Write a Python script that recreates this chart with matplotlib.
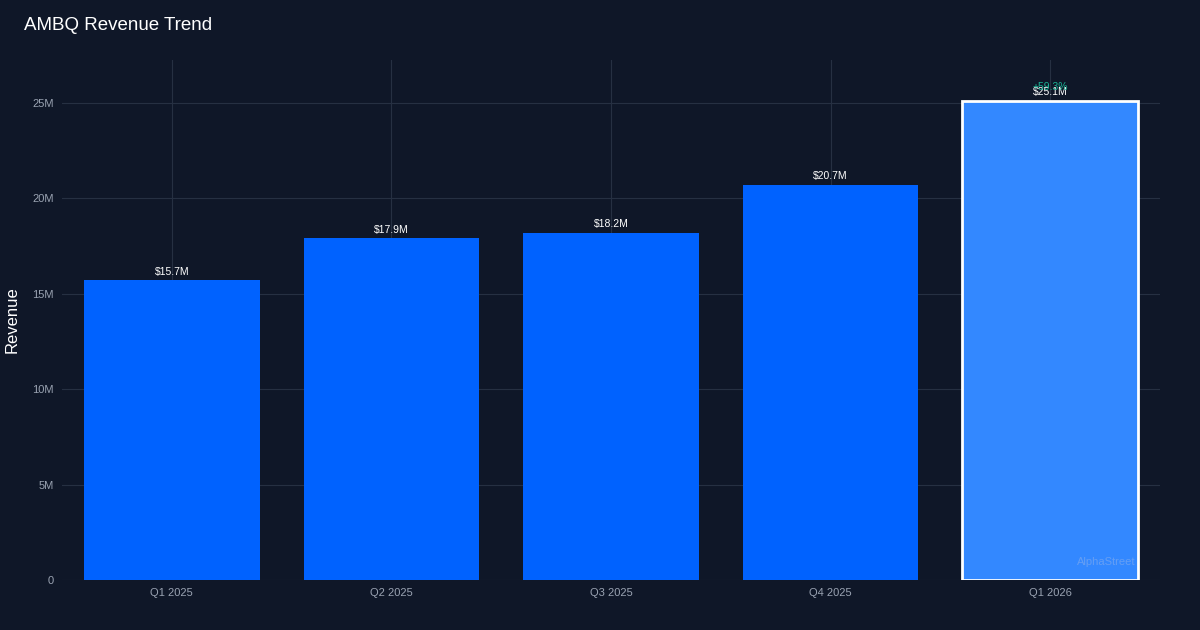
import matplotlib
matplotlib.use('Agg')
import matplotlib.pyplot as plt
from matplotlib.ticker import FuncFormatter

plt.rcParams['font.family'] = ['Liberation Sans', 'DejaVu Sans']

quarters = ["Q1 2025", "Q2 2025", "Q3 2025", "Q4 2025", "Q1 2026"]
revenue = [15.7, 17.9, 18.2, 20.7, 25.1]  # $M
labels = ["$15.7M", "$17.9M", "$18.2M", "$20.7M", "$25.1M"]
growth_label = "+59.3%"

bg = "#0f1728"
grid = "#263042"
tick_col = "#9aa3b2"

fig = plt.figure(figsize=(12, 6.3), dpi=100, facecolor=bg)
ax = fig.add_axes([62/1200, 50/630, 1098/1200, 520/630], facecolor=bg)

x = list(range(len(quarters)))
colors = ["#0062ff"] * 4 + ["#3388ff"]
bars = ax.bar(x, revenue, width=0.8, color=colors, zorder=2)
bars[-1].set_edgecolor("white")
bars[-1].set_linewidth(2)

for xi, v, lab in zip(x, revenue, labels):
    ax.text(xi, v + 0.2, lab, ha="center", va="bottom", color="white", fontsize=7.5, zorder=3)
ax.text(x[-1], revenue[-1] + 0.45, growth_label, ha="center", va="bottom", color="#19b394", fontsize=7.5, zorder=3)
ax.text(x[-1] + 0.39, 0.95, "AlphaStreet", ha="right", va="center", color="#7aa8f0", fontsize=8, alpha=0.7, zorder=3)

ax.set_xlim(-0.5, 4.5)
ax.set_ylim(0, 27.25)
ax.set_yticks([0, 5, 10, 15, 20, 25])
ax.yaxis.set_major_formatter(FuncFormatter(lambda v, p: "0" if v == 0 else f"{int(v)}M"))
ax.set_xticks(x)
ax.set_xticklabels(quarters)
ax.tick_params(colors=tick_col, labelsize=8, length=0, pad=6)
ax.grid(True, color=grid, linewidth=0.8, zorder=0)
for s in ax.spines.values():
    s.set_visible(False)

fig.text(12/1200, 1 - 320/630, "Revenue", color="white", fontsize=12, rotation=90, va="center", ha="center")
fig.text(24/1200, 1 - 25/630, "AMBQ Revenue Trend", color="white", fontsize=13.5, va="center", ha="left")

fig.savefig("out.png", facecolor=bg)
